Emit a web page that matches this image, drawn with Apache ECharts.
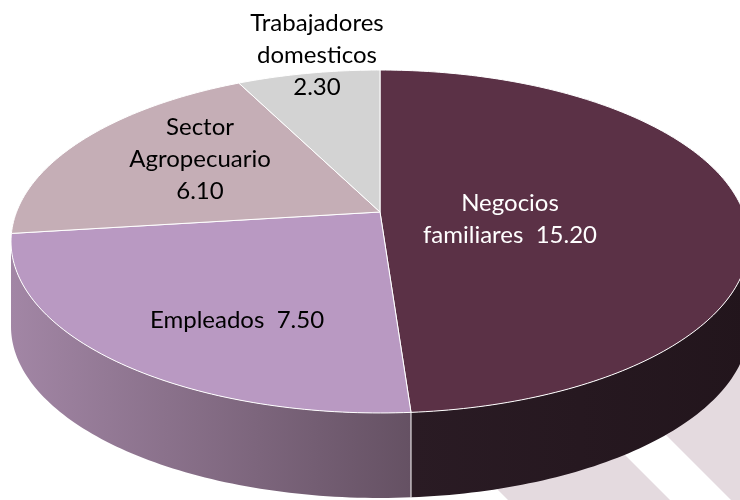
<!DOCTYPE html>
<html>
<head>
<meta charset="utf-8">
<script src="https://cdn.jsdelivr.net/npm/echarts@6/dist/echarts.min.js"></script>
<style>html,body{margin:0;padding:0;background:#fff}#main{width:740px;height:500px}</style>
</head>
<body>
<div id="main"></div>
<script>
// datos
var categories = ['Negocios\nfamiliares', 'Empleados', 'Sector\nAgropecuario', 'Trabajadores\ndomesticos'];
var values = [15.2, 7.5, 6.1, 2.3];
var labelSep = ['  ', '  ', '\n', '\n'];

// estilos
var topColors = ['#5b3146', '#b999c2', '#c5aeb6', '#d3d3d3'];
var sideColors = [['#2a1b24', '#22151c'], ['#a286a5', '#655163'], ['#9a8790', '#8a7880'], ['#aaaaaa', '#999999']];
var labelColors = ['#fff', '#000', '#000', '#000'];
var labelAt = [[510, 219], [237, 320], [200, 159], [317, 55]];

// pastel 3D en perspectiva
var cx = 380, cy = 212, A = 363.5, B = 166.4, E = 0.172, DEPTH = 85;
var total = values.reduce(function (s, v) { return s + v; }, 0);
var starts = [];
values.reduce(function (s, v, i) { starts[i] = s; return s + v; }, 0);

function proj(deg, r, dz) {
    var t = deg * Math.PI / 180;
    var u = Math.sin(t) * r, v = -Math.cos(t) * r;
    var d = 1 - E * v;
    return [cx + A * u / d, cy + B * v / d + (dz || 0)];
}
function arc(a0, a1, dz) {
    var pts = [];
    for (var a = a0; a < a1; a += 1) pts.push(proj(a, 1, dz));
    pts.push(proj(a1, 1, dz));
    return pts;
}
var silR = Math.acos(-E) * 180 / Math.PI, silL = 360 - silR;

function renderSide(params, api) {
    var i = params.dataIndex;
    var a0 = starts[i] / total * 360;
    var a1 = a0 + api.value(1) / total * 360;
    var b0 = Math.max(a0, silR), b1 = Math.min(a1, silL);
    if (b1 <= b0) return null;
    var topArc = arc(b0, b1, 0);
    var botArc = arc(b0, b1, DEPTH).reverse();
    var children = [{
        type: 'polygon',
        shape: { points: topArc.concat(botArc) },
        style: {
            fill: new echarts.graphic.LinearGradient(0, 0, 1, 0, [
                { offset: 0, color: sideColors[i][0] },
                { offset: 1, color: sideColors[i][1] }
            ])
        }
    }];
    if (a0 > silR && a0 < silL) {
        var p = proj(a0, 1, 0), q = proj(a0, 1, DEPTH);
        children.push({ type: 'line', shape: { x1: p[0], y1: p[1], x2: q[0], y2: q[1] }, style: { stroke: '#fff', lineWidth: 1 } });
    }
    return { type: 'group', children: children };
}

function renderTop(params, api) {
    var i = params.dataIndex;
    var a0 = starts[i] / total * 360;
    var a1 = a0 + api.value(1) / total * 360;
    var pts = [proj(0, 0, 0)].concat(arc(a0, a1, 0));
    return {
        type: 'group',
        children: [{
            type: 'polygon',
            shape: { points: pts },
            style: { fill: topColors[i], stroke: '#fff', lineWidth: 1 }
        }, {
            type: 'text',
            z2: 10,
            style: {
                x: labelAt[i][0], y: labelAt[i][1],
                text: categories[i] + labelSep[i] + api.value(1).toFixed(2),
                fill: labelColors[i],
                font: '24px Lato',
                align: 'center', verticalAlign: 'middle',
                lineHeight: 32
            }
        }]
    };
}

var seriesData = values.map(function (v, i) { return [i, v]; });

var myChart = echarts.init(document.getElementById('main'));
option = {
    animation: false,
    graphic: [
        { type: 'polygon', z: 0, shape: { points: [[258, 250], [420, 250], [690, 520], [528, 520]] }, style: { fill: '#e4dadf' } },
        { type: 'polygon', z: 0, shape: { points: [[491, 260], [900, 260], [900, 520], [751, 520]] }, style: { fill: '#e4dadf' } }
    ],
    series: [
        { type: 'custom', coordinateSystem: 'none', z: 3, renderItem: renderSide, data: seriesData },
        { type: 'custom', coordinateSystem: 'none', z: 4, renderItem: renderTop, data: seriesData }
    ]
};
myChart.setOption(option);
</script>
</body>
</html>
